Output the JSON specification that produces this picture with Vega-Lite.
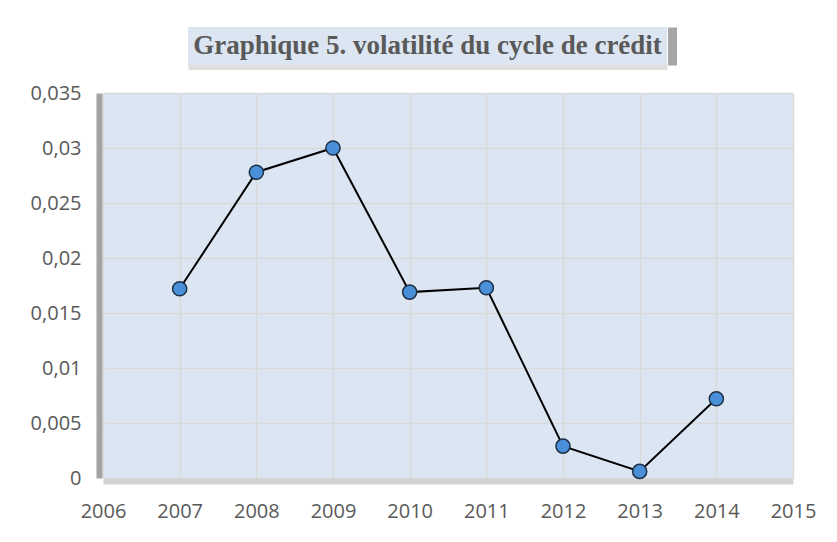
{
  "$schema": "https://vega.github.io/schema/vega-lite/v6.json",
  "padding": {"left": 30, "top": 27, "right": 5, "bottom": 5},
  "spacing": 16,
  "config": {"view": {"stroke": null}, "font": "Open Sans"},
  "vconcat": [
    {
      "hconcat": [
        {
          "width": 85,
          "height": 38,
          "data": {"values": []},
          "mark": "point"
        },
        {
          "width": 479,
          "height": 38,
          "view": {"fill": "#dce6f2", "stroke": null},
          "data": {"values": [{"t": "Graphique 5. volatilité du cycle de crédit"}]},
          "mark": {"type": "text", "font": "Liberation Serif", "fontWeight": "bold", "fontSize": 27, "color": "#595959", "baseline": "middle", "align": "center"},
          "encoding": {
            "text": {"field": "t"},
            "x": {"datum": 0.5, "type": "quantitative", "scale": {"domain": [0, 1]},
              "axis": {"orient": "bottom", "domain": true, "domainColor": "#dedede", "domainWidth": 5, "offset": 2, "labels": false, "ticks": false, "grid": false, "title": null}},
            "y": {"datum": 0.5, "type": "quantitative", "scale": {"domain": [0, 1]},
              "axis": {"orient": "right", "domain": true, "domainColor": "#a6a6a6", "domainWidth": 9, "offset": 5, "labels": false, "ticks": false, "grid": false, "title": null}}
          }
        }
      ],
      "spacing": 0
    },
    {
      "width": 690,
      "height": 385,
      "view": {"fill": "#dce6f2", "stroke": null},
      "data": {"values": [
        {"annee": 2007, "volatilite": 0.0172},
        {"annee": 2008, "volatilite": 0.0278},
        {"annee": 2009, "volatilite": 0.0300},
        {"annee": 2010, "volatilite": 0.0169},
        {"annee": 2011, "volatilite": 0.0173},
        {"annee": 2012, "volatilite": 0.0029},
        {"annee": 2013, "volatilite": 0.0006},
        {"annee": 2014, "volatilite": 0.0072}
      ]},
      "encoding": {
        "x": {"field": "annee", "type": "quantitative",
          "scale": {"domain": [2006, 2015], "nice": false, "zero": false},
          "axis": {"values": [2006, 2007, 2008, 2009, 2010, 2011, 2012, 2013, 2014, 2015], "format": "d",
            "labelFontSize": 20, "labelColor": "#595959", "labelFont": "Open Sans", "labelFlush": false, "labelOverlap": false,
            "grid": true, "gridColor": "#d9d9d9", "gridWidth": 1.5,
            "domain": true, "domainColor": "#d3d3d3", "domainWidth": 6, "offset": 3,
            "ticks": false, "labelPadding": 20, "title": null}},
        "y": {"field": "volatilite", "type": "quantitative",
          "scale": {"domain": [0, 0.035], "nice": false},
          "axis": {"values": [0, 0.005, 0.01, 0.015, 0.02, 0.025, 0.03, 0.035],
            "labelExpr": "replace(format(datum.value, '.3~f'), '.', ',')",
            "labelFontSize": 20, "labelColor": "#595959", "labelFont": "Open Sans", "labelFlush": false, "labelOverlap": false,
            "grid": true, "gridColor": "#d9d9d9", "gridWidth": 1.5,
            "domain": true, "domainColor": "#a3a3a3", "domainWidth": 6, "offset": 4,
            "ticks": false, "labelPadding": 18, "title": null}}
      },
      "layer": [
        {"mark": {"type": "line", "color": "#000000", "strokeWidth": 2}},
        {"mark": {"type": "point", "filled": true, "fill": "#4a90d9", "stroke": "#1e3046", "strokeWidth": 1.5, "size": 200, "opacity": 1}}
      ]
    }
  ]
}
